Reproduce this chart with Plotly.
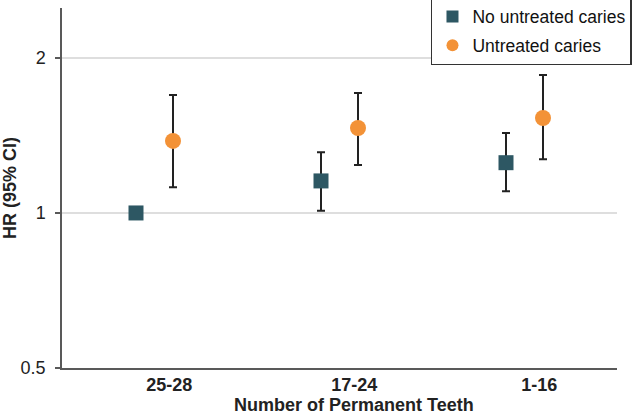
import plotly.graph_objects as go

categories = ["25-28", "17-24", "1-16"]
cat_pos = [0, 1, 2]

no_caries_hr = [1.0, 1.154, 1.252]
no_caries_lo = [None, 1.01, 1.102]
no_caries_hi = [None, 1.312, 1.43]

caries_hr = [1.38, 1.462, 1.529]
caries_lo = [1.122, 1.239, 1.271]
caries_hi = [1.695, 1.71, 1.853]

offset = 0.1
label_shift = 0.08

def err(hr, lo, hi):
    plus = [(h - v) if h is not None else 0 for v, h in zip(hr, hi)]
    minus = [(v - l) if l is not None else 0 for v, l in zip(hr, lo)]
    return plus, minus

p1, m1 = err(no_caries_hr, no_caries_lo, no_caries_hi)
p2, m2 = err(caries_hr, caries_lo, caries_hi)
vis1 = [l is not None for l in no_caries_lo]

fig = go.Figure()
fig.add_trace(go.Scatter(
    x=[c - offset for c in cat_pos], y=no_caries_hr, mode="markers",
    name="No untreated caries", legendgroup="a",
    marker=dict(symbol="square", size=15, color="#2d5763"),
    error_y=dict(type="data", symmetric=False,
                 array=[p if v else None for p, v in zip(p1, vis1)],
                 arrayminus=[m if v else None for m, v in zip(m1, vis1)],
                 color="#222222", thickness=2, width=4),
))
fig.add_trace(go.Scatter(
    x=[c + offset for c in cat_pos], y=caries_hr, mode="markers",
    name="Untreated caries", legendgroup="b",
    marker=dict(symbol="circle", size=16, color="#f39237"),
    error_y=dict(type="data", symmetric=False, array=p2, arrayminus=m2,
                 color="#222222", thickness=2, width=4),
))

font = "Liberation Sans, Arial, sans-serif"
fig.update_layout(
    width=633, height=416,
    margin=dict(l=62, r=16, t=8, b=48, autoexpand=False),
    paper_bgcolor="white", plot_bgcolor="white",
    font=dict(family=font, size=17, color="#222222"),
    showlegend=True,
    legend=dict(
        x=1.027, xanchor="right", y=1.03, yanchor="top",
        bordercolor="#333333", borderwidth=1.5, bgcolor="white",
        font=dict(size=17.5, color="#111111"),
        itemsizing="constant", itemwidth=30, tracegroupgap=3,
        traceorder="grouped",
    ),
    xaxis=dict(
        range=[-0.5, 2.5], tickmode="array", automargin=False,
        tickvals=[c + label_shift for c in cat_pos], ticktext=categories,
        tickfont=dict(size=18, family=font, color="#222222", weight="bold"),
        showline=True, linecolor="#595959", linewidth=1.5,
        showgrid=False, zeroline=False, ticks="",
    ),
    yaxis=dict(
        type="log", range=[-0.30103, 0.39794], automargin=False,
        tickmode="array", tickvals=[0.5, 1, 2], ticktext=["0.5", "1", "2"],
        tickfont=dict(size=18, family=font, color="#222222"),
        showline=True, linecolor="#595959", linewidth=1.5,
        ticks="outside", ticklen=5, tickcolor="#595959", tickwidth=1.5,
        showgrid=True, gridcolor="#dedede", gridwidth=1.5,
        zeroline=False,
        ticklabelstandoff=6,
        title=dict(text="<b>HR (95% CI)</b>", font=dict(size=18, family=font, color="#222222"), standoff=12),
    ),
    annotations=[dict(
        text="<b>Number of Permanent Teeth</b>", xref="paper", yref="paper",
        x=(354 - 62) / 555, y=-(405 - 368) / 360, xanchor="center", yanchor="middle",
        showarrow=False, font=dict(size=18, family=font, color="#222222"),
    )],
)

fig.write_html("out.html", config={"displayModeBar": False},
               post_script="document.body.style.margin='0';document.body.style.overflow='hidden';")
